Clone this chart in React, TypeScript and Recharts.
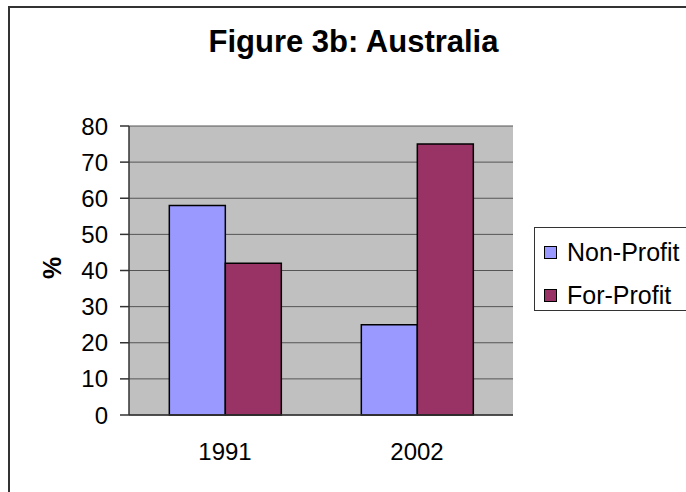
import { Bar, BarChart, CartesianGrid, XAxis, YAxis } from "recharts";

const years = ["1991", "2002"];
const nonProfit = [58, 25];
const forProfit = [42, 75];
const yTicks = [0, 10, 20, 30, 40, 50, 60, 70, 80];
const seriesNames = ["Non-Profit", "For-Profit"];
const seriesColors = ["#9999FF", "#993366"];

const data = years.map((year, i) => ({
  year,
  nonProfit: nonProfit[i],
  forProfit: forProfit[i],
}));

const font = "'Liberation Sans', Arial, sans-serif";

export default function App() {
  return (
    <div
      style={{
        position: "fixed",
        left: 0,
        top: 0,
        width: 686,
        height: 492,
        overflow: "hidden",
        background: "#fff",
        fontFamily: font,
      }}
    >
      <div
        style={{
          position: "absolute",
          left: 8,
          top: 6,
          width: 720,
          height: 520,
          border: "2px solid #333",
        }}
      />
      <div
        style={{
          position: "absolute",
          left: 0,
          top: 24,
          width: 707,
          textAlign: "center",
          fontSize: 31,
          fontWeight: "bold",
          color: "#000",
        }}
      >
        Figure 3b: Australia
      </div>
      <div
        style={{
          position: "absolute",
          left: 52,
          top: 268,
          transform: "translate(-50%, -50%) rotate(-90deg)",
          fontSize: 25,
          fontWeight: "bold",
        }}
      >
        %
      </div>
      <div style={{ position: "absolute", left: 0, top: 0 }}>
        <BarChart
          width={686}
          height={492}
          data={data}
          margin={{ top: 126, right: 173, bottom: 37, left: 49 }}
          barCategoryGap="21%"
          barGap={0}
        >
          <CartesianGrid vertical={false} fill="#C0C0C0" stroke="#555" fillOpacity={1} />
          <XAxis
            dataKey="year"
            height={40}
            tickLine={false}
            axisLine={{ stroke: "#333", strokeWidth: 1.5 }}
            tickSize={26}
            tick={{ fill: "#000", fontSize: 24, fontFamily: font }}
          />
          <XAxis
            xAxisId="edges"
            type="number"
            domain={[0, 2]}
            ticks={[0, 1, 2]}
            height={0}
            tick={false}
            axisLine={false}
            tickLine={{ stroke: "#333", strokeWidth: 1.5 }}
            tickSize={8}
          />
          <YAxis
            width={80}
            domain={[0, 80]}
            ticks={yTicks}
            interval={0}
            axisLine={{ stroke: "#333", strokeWidth: 1.5 }}
            tickLine={{ stroke: "#333", strokeWidth: 1.5 }}
            tickSize={9}
            tickMargin={12}
            tick={{ fill: "#000", fontSize: 24, fontFamily: font }}
          />
          <YAxis
            yAxisId="r"
            orientation="right"
            width={0}
            domain={[0, 80]}
            tick={false}
            tickLine={false}
            axisLine={{ stroke: "#808080", strokeWidth: 1.5 }}
          />
          <Bar
            dataKey="nonProfit"
            name={seriesNames[0]}
            fill={seriesColors[0]}
            stroke="#000"
            strokeWidth={1.5}
            isAnimationActive={false}
          />
          <Bar
            dataKey="forProfit"
            name={seriesNames[1]}
            fill={seriesColors[1]}
            stroke="#000"
            strokeWidth={1.5}
            isAnimationActive={false}
          />
        </BarChart>
      </div>
      <div
        style={{
          position: "absolute",
          left: 534,
          top: 227,
          width: 200,
          height: 84,
          border: "1px solid #333",
          background: "#fff",
          boxSizing: "border-box",
          paddingTop: 7,
        }}
      >
        {seriesNames.map((name, i) => (
          <div
            key={name}
            style={{
              display: "flex",
              alignItems: "center",
              height: 35,
              paddingLeft: 9,
              marginBottom: i === 0 ? 8 : 0,
            }}
          >
            <span
              style={{
                display: "inline-block",
                width: 11,
                height: 11,
                background: seriesColors[i],
                border: "1px solid #000",
                marginRight: 10,
              }}
            />
            <span style={{ fontSize: 25, color: "#000" }}>{name}</span>
          </div>
        ))}
      </div>
    </div>
  );
}
